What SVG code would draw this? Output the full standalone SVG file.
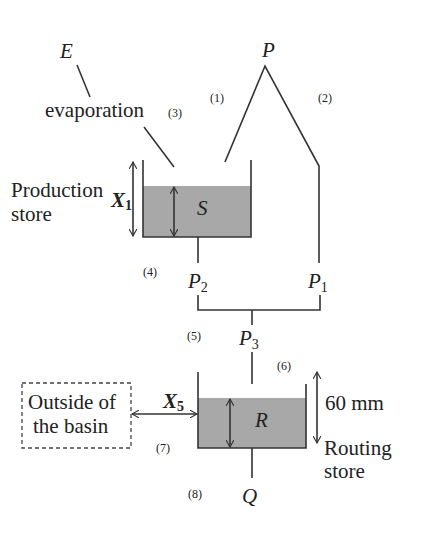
<svg xmlns="http://www.w3.org/2000/svg" width="447" height="549" viewBox="0 0 447 549">
<style>
.ln{stroke:#333;stroke-width:1.6;fill:none}
.fill{fill:#a8a8a8;stroke:none}
text{font-family:'Liberation Serif',serif;fill:#222}
.t{font-size:21px}
.v{font-size:21px;font-style:italic}
.b{font-size:21px;font-style:italic;font-weight:bold}
.s{font-size:12px}
.sub{font-size:14px;font-style:normal}
</style>
<defs>
<marker id="ah" viewBox="0 0 10 10" refX="9" refY="5" markerWidth="8" markerHeight="8" markerUnits="userSpaceOnUse" orient="auto-start-reverse">
<path d="M0,0 L9,5 L0,10" fill="none" stroke="#333" stroke-width="1.4"/>
</marker>
</defs>
<rect width="447" height="549" fill="#fff"/>

<g id="connectors">
<line class="ln" x1="77" y1="65" x2="90" y2="97"/>
<line class="ln" x1="144" y1="127" x2="174" y2="167"/>
<polyline class="ln" points="225,162 265,66 319,166 319,263"/>
<line class="ln" x1="198" y1="237" x2="198" y2="263"/>
<polyline class="ln" points="198,295 198,310 320,310 320,295"/>
<line class="ln" x1="252" y1="310" x2="252" y2="325"/>
<line class="ln" x1="252" y1="352" x2="252" y2="384"/>
<line class="ln" x1="252" y1="448" x2="252" y2="478"/>
<line class="ln" x1="133" y1="162" x2="133" y2="236" marker-start="url(#ah)" marker-end="url(#ah)"/>
<line class="ln" x1="317" y1="372" x2="317" y2="443" marker-start="url(#ah)" marker-end="url(#ah)"/>
<line class="ln" x1="132" y1="414" x2="197" y2="414" marker-start="url(#ah)" marker-end="url(#ah)"/>
</g>

<g id="production-store" font-family="Liberation Serif, serif">
<rect class="fill" x="143" y="186" width="108" height="51"/>
<polyline class="ln" points="143,160 143,237 251,237 251,160"/>
<line class="ln" x1="174" y1="187" x2="174" y2="236" marker-start="url(#ah)" marker-end="url(#ah)"/>
<text class="v" x="197" y="215">S</text>
<text class="t" x="11" y="197">Production</text>
<text class="t" x="11" y="221">store</text>
<text class="b" x="111" y="207">X<tspan class="sub" font-weight="bold" dy="3">1</tspan></text>
</g>

<g id="routing-store" font-family="Liberation Serif, serif">
<rect class="fill" x="198" y="398" width="108" height="50"/>
<polyline class="ln" points="198,372 198,448 306,448 306,384"/>
<line class="ln" x1="230" y1="399" x2="230" y2="447" marker-start="url(#ah)" marker-end="url(#ah)"/>
<text class="v" x="255" y="427">R</text>
<text class="t" x="325" y="410">60 mm</text>
<text class="t" x="324" y="455">Routing</text>
<text class="t" x="324" y="478">store</text>
</g>

<g id="outside" font-family="Liberation Serif, serif">
<rect x="22" y="383" width="109" height="65" fill="none" stroke="#444" stroke-width="1.3" stroke-dasharray="4,3"/>
<text class="t" x="28" y="409">Outside of</text>
<text class="t" x="33" y="433">the basin</text>
<text class="b" x="163" y="408">X<tspan class="sub" font-weight="bold" dy="3">5</tspan></text>
</g>

<g id="labels" font-family="Liberation Serif, serif">
<text class="v" x="60" y="58">E</text>
<text class="t" x="45" y="117">evaporation</text>
<text class="v" x="262" y="57">P</text>
<text class="v" x="188" y="288">P<tspan class="sub" dy="4">2</tspan></text>
<text class="v" x="308" y="288">P<tspan class="sub" dy="4">1</tspan></text>
<text class="v" x="239" y="345">P<tspan class="sub" dy="4">3</tspan></text>
<text class="v" x="242" y="503">Q</text>
<text class="s" x="210" y="102">(1)</text>
<text class="s" x="318" y="102">(2)</text>
<text class="s" x="168" y="117">(3)</text>
<text class="s" x="143" y="276">(4)</text>
<text class="s" x="187" y="340">(5)</text>
<text class="s" x="277" y="370">(6)</text>
<text class="s" x="156" y="452">(7)</text>
<text class="s" x="188" y="498">(8)</text>
</g>
</svg>
